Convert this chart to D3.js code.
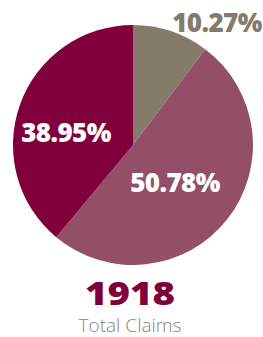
<!DOCTYPE html>
<html lang="en">
<head>
<meta charset="UTF-8">
<script src="https://d3js.org/d3.v7.min.js"></script>
<style>
  html, body { margin: 0; padding: 0; background: #fff; }
  text { font-family: 'Open Sans', 'Lato', sans-serif; }
</style>
</head>
<body>
<div id="chart"></div>
<script>
// slices, clockwise from 12 o'clock
var labels = ["Other", "Group B", "Group A"];
var values = [10.27, 50.78, 38.95];
var colors = ["#857b6b", "#944f68", "#80003c"];
var labelColors = ["#857b6b", "#ffffff", "#ffffff"];
var labelPos = [[217, 32], [175, 192], [66, 142]];
var total = 1918;

var svg = d3.select("#chart")
  .append("svg")
  .attr("width", 263)
  .attr("height", 337);

var g = svg.append("g")
  .attr("transform", "translate(133,145)");

var pie = d3.pie().sort(null).value(function(d) { return d; });
var arc = d3.arc().innerRadius(0).outerRadius(120);

g.selectAll("path")
  .data(pie(values))
  .enter().append("path")
  .attr("d", arc)
  .attr("fill", function(d, i) { return colors[i]; });

svg.selectAll(".pct")
  .data(values)
  .enter().append("text")
  .attr("class", "pct")
  .attr("x", function(d, i) { return labelPos[i][0]; })
  .attr("y", function(d, i) { return labelPos[i][1]; })
  .attr("text-anchor", "middle")
  .attr("font-size", "26px")
  .attr("font-weight", 800)
  .attr("letter-spacing", "-0.6px")
  .attr("fill", function(d, i) { return labelColors[i]; })
  .text(function(d) { return d.toFixed(2) + "%"; });

// the big number is set in a wide face; stretch it a little
svg.append("text")
  .attr("transform", "translate(130,305) scale(1.2,1)")
  .attr("text-anchor", "middle")
  .attr("font-size", "32px")
  .attr("font-weight", 800)
  .attr("fill", "#80003c")
  .text(total);

svg.append("text")
  .attr("x", 130)
  .attr("y", 332)
  .attr("text-anchor", "middle")
  .attr("font-size", "19px")
  .attr("font-weight", 300)
  .attr("fill", "#8a8376")
  .text("Total Claims");
</script>
</body>
</html>
